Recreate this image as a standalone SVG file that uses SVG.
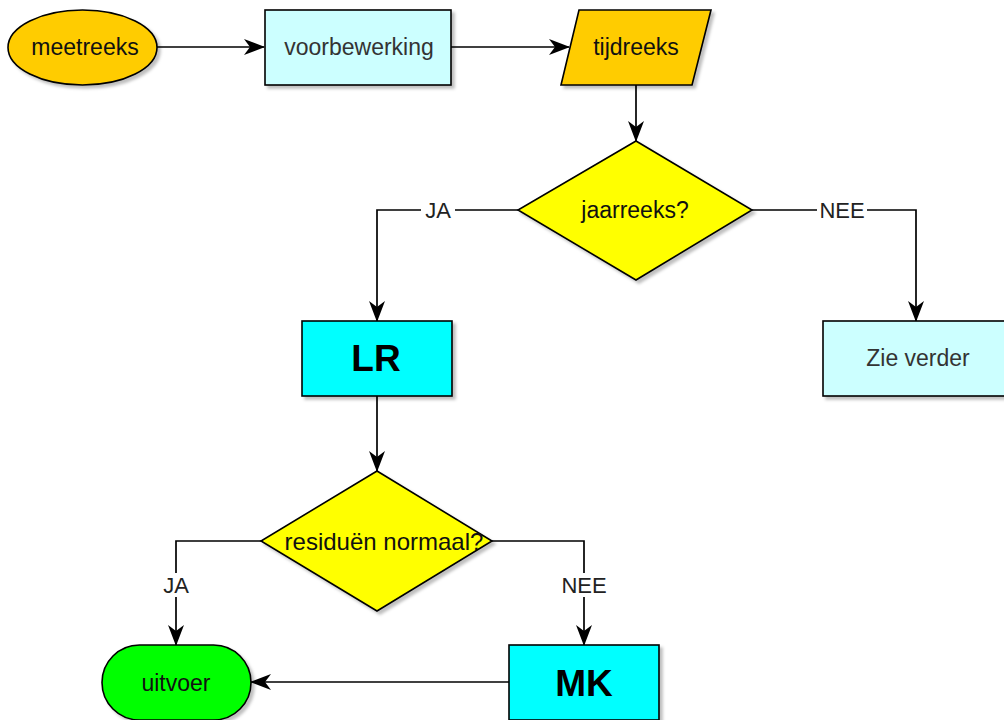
<svg xmlns="http://www.w3.org/2000/svg" width="1004" height="720" viewBox="0 0 1004 720">
<defs>
<filter id="sh" x="-10%" y="-10%" width="130%" height="130%">
<feDropShadow dx="3" dy="3" stdDeviation="1.5" flood-color="#000" flood-opacity="0.25"/>
</filter>
<marker id="arr" markerUnits="userSpaceOnUse" markerWidth="21" markerHeight="18" viewBox="0 0 21 18" refX="20" refY="9" orient="auto">
<path d="M0,1 L21,9 L0,17 L6,9 Z" fill="#000"/>
</marker>
<style>
.n{stroke:#000;stroke-width:1.6;filter:url(#sh)}
.t{font-family:"Liberation Sans",Arial,sans-serif;font-size:23px;text-anchor:middle;dominant-baseline:central;fill:#111}
.tl{fill:#333}
.tb{font-family:"Liberation Sans",Arial,sans-serif;font-size:37px;font-weight:bold;text-anchor:middle;dominant-baseline:central;fill:#000}
.e{fill:none;stroke:#000;stroke-width:1.7}
.lb{fill:#fff}
.lt{font-family:"Liberation Sans",Arial,sans-serif;font-size:22px;text-anchor:middle;dominant-baseline:central;fill:#222}
</style>
</defs>
<rect width="1004" height="720" fill="#fff"/>
<g id="connectors">
<path class="e" d="M157,47 H264" marker-end="url(#arr)"/>
<path class="e" d="M451,47 H569" marker-end="url(#arr)"/>
<path class="e" d="M636,85 V141" marker-end="url(#arr)"/>
<path class="e" d="M518,210 H377 V321" marker-end="url(#arr)"/>
<path class="e" d="M752,210 H916 V321" marker-end="url(#arr)"/>
<path class="e" d="M377,396 V471" marker-end="url(#arr)"/>
<path class="e" d="M261,541 H176 V645" marker-end="url(#arr)"/>
<path class="e" d="M492,541 H584 V645" marker-end="url(#arr)"/>
<path class="e" d="M509,682 H251" marker-end="url(#arr)"/>
<rect class="lb" x="421" y="198" width="34" height="24"/>
<text class="lt" x="438" y="210">JA</text>
<rect class="lb" x="817" y="198" width="50" height="24"/>
<text class="lt" x="842" y="210">NEE</text>
<rect class="lb" x="159" y="573" width="34" height="24"/>
<text class="lt" x="176" y="585">JA</text>
<rect class="lb" x="559" y="573" width="50" height="24"/>
<text class="lt" x="584" y="585">NEE</text>
</g>
<g id="meetreeks">
<ellipse class="n" cx="82.5" cy="47.5" rx="74.5" ry="37.5" fill="#ffcc00"/>
<text class="t" x="85" y="47">meetreeks</text>
</g>
<g id="voorbewerking">
<rect class="n" x="265" y="10" width="186" height="75" fill="#ccffff"/>
<text class="t tl" x="359" y="47">voorbewerking</text>
</g>
<g id="tijdreeks">
<polygon class="n" points="579,10 711,10 692,85 561,85" fill="#ffcc00"/>
<text class="t" x="636" y="47">tijdreeks</text>
</g>
<g id="jaarreeks">
<polygon class="n" points="636,141 752,210 636,280 518,210" fill="#ffff00"/>
<text class="t" x="635" y="210">jaarreeks?</text>
</g>
<g id="LR">
<rect class="n" x="302" y="321" width="150" height="75" fill="#00ffff"/>
<text class="tb" x="376" y="358">LR</text>
</g>
<g id="zieverder">
<rect class="n" x="823" y="321" width="186" height="75" fill="#ccffff"/>
<text class="t tl" x="918" y="358">Zie verder</text>
</g>
<g id="residuen">
<polygon class="n" points="377,471 492,541 377,611 261,541" fill="#ffff00"/>
<text class="t" x="384" y="541" style="font-size:24px">residuën normaal?</text>
</g>
<g id="uitvoer">
<rect class="n" x="102" y="645" width="149" height="75" rx="37.5" ry="37.5" fill="#00ff00"/>
<text class="t" x="176" y="683">uitvoer</text>
</g>
<g id="MK">
<rect class="n" x="509" y="645" width="150" height="75" fill="#00ffff"/>
<text class="tb" x="584" y="683">MK</text>
</g>
</svg>
